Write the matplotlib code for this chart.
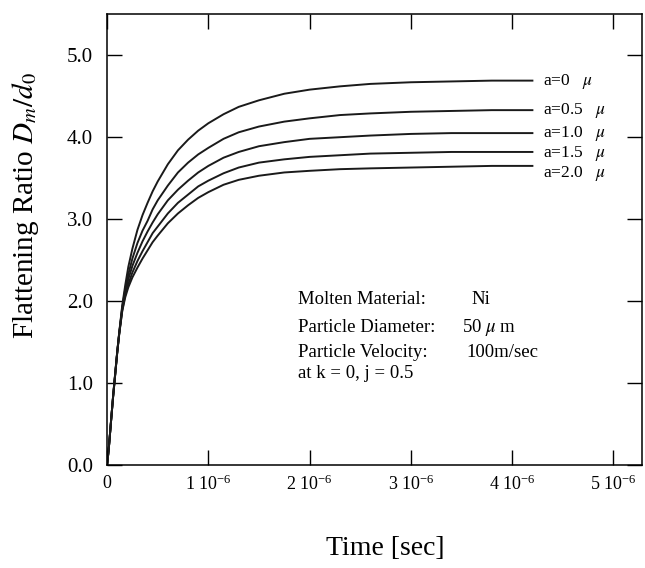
import matplotlib
matplotlib.use('Agg')
import matplotlib.pyplot as plt

plt.rcParams['font.family'] = 'serif'
plt.rcParams['font.serif'] = ['Liberation Serif', 'DejaVu Serif']
plt.rcParams['mathtext.fontset'] = 'stix'

# time in microseconds (x 1e-6 sec)
t_us = [0, 0.01, 0.02, 0.04, 0.06, 0.08, 0.1, 0.12, 0.15, 0.18, 0.21, 0.25, 0.3, 0.35,
        0.4, 0.45, 0.5, 0.6, 0.7, 0.8, 0.9, 1.0, 1.15, 1.3, 1.5, 1.75, 2.0, 2.3, 2.6,
        3.0, 3.4, 3.8, 4.2]

a00 = [0, 0.12, 0.25, 0.55, 0.85, 1.12, 1.38, 1.62, 1.95, 2.20, 2.42, 2.64, 2.87, 3.05,
       3.20, 3.34, 3.46, 3.67, 3.84, 3.97, 4.08, 4.17, 4.28, 4.37, 4.45, 4.53, 4.58, 4.62, 4.65,
       4.67, 4.68, 4.69, 4.69]
a05 = [0, 0.12, 0.25, 0.55, 0.85, 1.11, 1.38, 1.61, 1.93, 2.15, 2.33, 2.52, 2.71, 2.86,
       2.98, 3.12, 3.23, 3.41, 3.57, 3.69, 3.79, 3.87, 3.98, 4.06, 4.13, 4.19, 4.23, 4.27, 4.29,
       4.31, 4.32, 4.33, 4.33]
a10 = [0, 0.12, 0.25, 0.55, 0.84, 1.11, 1.37, 1.61, 1.91, 2.11, 2.27, 2.43, 2.59, 2.73,
       2.85, 2.96, 3.06, 3.23, 3.36, 3.47, 3.57, 3.65, 3.75, 3.82, 3.89, 3.94, 3.98, 4.00, 4.02,
       4.04, 4.05, 4.05, 4.05]
a15 = [0, 0.12, 0.25, 0.55, 0.84, 1.10, 1.37, 1.60, 1.89, 2.08, 2.21, 2.35, 2.49, 2.61,
       2.72, 2.83, 2.91, 3.07, 3.20, 3.30, 3.40, 3.47, 3.56, 3.63, 3.69, 3.73, 3.76, 3.78, 3.80,
       3.81, 3.82, 3.82, 3.82]
a20 = [0, 0.12, 0.25, 0.55, 0.84, 1.10, 1.37, 1.60, 1.88, 2.05, 2.17, 2.29, 2.41, 2.52,
       2.62, 2.72, 2.80, 2.95, 3.07, 3.17, 3.26, 3.33, 3.42, 3.48, 3.53, 3.57, 3.59, 3.61, 3.62,
       3.63, 3.64, 3.65, 3.65]

curves = [a00, a05, a10, a15, a20]
curve_labels = ['a=0   $\\mu$', 'a=0.5   $\\mu$', 'a=1.0   $\\mu$', 'a=1.5   $\\mu$', 'a=2.0   $\\mu$']
label_y = [4.68, 4.32, 4.05, 3.80, 3.56]

xticks = [0, 1e-6, 2e-6, 3e-6, 4e-6, 5e-6]
xticklabels = ['0'] + ['$\\mathregular{%d\\ 10^{-6}}$' % i for i in range(1, 6)]
yticks = [0, 1, 2, 3, 4, 5]

fig = plt.figure(figsize=(6.45, 5.68), dpi=100)
ax = fig.add_axes([0.166, 0.181, 0.829, 0.794])

t = [v * 1e-6 for v in t_us]
for y in curves:
    ax.plot(t, y, color='#1a1a1a', lw=1.4)

for lab, ly in zip(curve_labels, label_y):
    ax.text(4.30e-6, ly, lab, fontsize=12.5, va='center', ha='left')

ax.set_xlim(0, 5.28e-6)
ax.set_ylim(0, 5.5)
ax.set_xticks(xticks)
ax.set_xticklabels(xticklabels)
ax.set_yticks(yticks)
ax.set_yticklabels(['%.1f' % v for v in yticks])
ax.tick_params(direction='in', length=11, width=1, top=True, right=True)
ax.tick_params(axis='x', labelsize=13, pad=7)
ax.tick_params(axis='y', labelsize=15, pad=10)
for s in ax.spines.values():
    s.set_linewidth(1.1)

fig.text(0.597, 0.034, 'Time [sec]', fontsize=20, ha='center', va='center')
fig.text(0.040, 0.639, 'Flattening Ratio $D_m/d_0$', fontsize=21, rotation=90,
         ha='center', va='center')

# conditions block
info_keys = ['Molten Material:', 'Particle Diameter:', 'Particle Velocity:', 'at k = 0, j = 0.5']
info_vals = ['Ni', '50 $\\mu$ m', '100m/sec', '']
info_y = [2.02, 1.68, 1.38, 1.12]
val_x = [3.60, 3.50, 3.55, 0]
for k, v, xv, yy in zip(info_keys, info_vals, val_x, info_y):
    ax.text(1.89e-6, yy, k, fontsize=13.5, va='center')
    if v:
        ax.text(xv * 1e-6, yy, v, fontsize=13.5, va='center')

fig.savefig('out.png', dpi=100)
